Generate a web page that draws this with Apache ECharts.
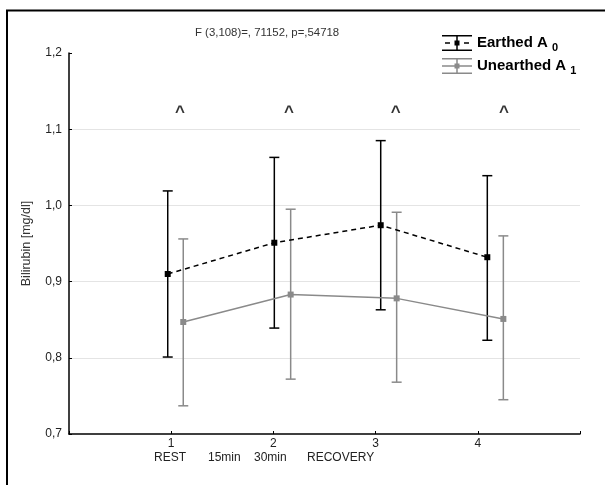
<!DOCTYPE html>
<html>
<head>
<meta charset="utf-8">
<script src="https://cdn.jsdelivr.net/npm/echarts@6/dist/echarts.min.js"></script>
<style>html,body{margin:0;padding:0;background:#fff;}#c{width:605px;height:485px;}</style>
</head>
<body>
<div id="c"></div>
<script>
// ---- data ----
const xTickLabels = ['1', '2', '3', '4'];
const phaseLabels = ['REST', '15min', '30min', 'RECOVERY'];
const seriesNames = ['Earthed A 0', 'Unearthed A 1'];
const earthedX = [0.966, 2.009, 3.050, 4.093];
const earthedMean = [0.910, 0.951, 0.974, 0.932];
const earthedLow = [0.801, 0.839, 0.863, 0.823];
const earthedHigh = [1.019, 1.063, 1.085, 1.039];
const unearthedX = [1.118, 2.169, 3.206, 4.250];
const unearthedMean = [0.847, 0.883, 0.878, 0.851];
const unearthedLow = [0.737, 0.772, 0.768, 0.745];
const unearthedHigh = [0.956, 0.995, 0.991, 0.960];
const caretX = [1.086, 2.152, 3.196, 4.256];
const caretY = [1.122, 1.122, 1.122, 1.122];
const titleText = 'F (3,108)=, 71152, p=,54718';
const yAxisName = 'Bilirubin [mg/dl]';

const FONT = '"Liberation Sans", Arial, sans-serif';
const BLACK = '#000000';
const GRAY = '#8a8a8a';

function errorSeries(name, xs, lows, highs, color) {
  return {
    type: 'custom',
    name: name,
    z: 2,
    silent: true,
    data: xs.map((x, i) => [x, lows[i], highs[i]]),
    renderItem: function (params, api) {
      const x = api.value(0);
      const lo = api.coord([x, api.value(1)]);
      const hi = api.coord([x, api.value(2)]);
      const hw = 5;
      const style = { stroke: color, lineWidth: 1.5 };
      return {
        type: 'group',
        children: [
          { type: 'line', shape: { x1: hi[0], y1: hi[1], x2: lo[0], y2: lo[1] }, style: style },
          { type: 'line', shape: { x1: hi[0] - hw, y1: hi[1], x2: hi[0] + hw, y2: hi[1] }, style: style },
          { type: 'line', shape: { x1: lo[0] - hw, y1: lo[1], x2: lo[0] + hw, y2: lo[1] }, style: style }
        ]
      };
    }
  };
}

const iconEarthed = 'path://M0 0H30V1.5H0Z M0 14.5H30V16H0Z M14.25 0H15.75V16H14.25Z M12.5 5.5H17.5V10.5H12.5Z M3 7.25H8V8.75H3Z M22 7.25H27V8.75H22Z';
const iconUnearthed = 'path://M0 0H30V1.5H0Z M0 14.5H30V16H0Z M14.25 0H15.75V16H14.25Z M12.5 5.5H17.5V10.5H12.5Z M0 7.25H30V8.75H0Z';

const chart = echarts.init(document.getElementById('c'), null, { renderer: 'canvas' });
chart.setOption({
  animation: false,
  backgroundColor: '#ffffff',
  textStyle: { fontFamily: FONT },
  title: {
    text: titleText,
    left: 190,
    top: 22,
    textStyle: { fontSize: 11.4, fontWeight: 'normal', color: '#333', fontFamily: FONT }
  },
  legend: {
    orient: 'vertical',
    left: 437,
    top: 30,
    itemWidth: 30,
    itemHeight: 16,
    itemGap: 5,
    selectedMode: false,
    data: [
      { name: seriesNames[0], icon: iconEarthed, itemStyle: { color: BLACK } },
      { name: seriesNames[1], icon: iconUnearthed, itemStyle: { color: GRAY } }
    ],
    formatter: function (name) {
      const i = name.lastIndexOf(' ');
      return '{m|' + name.slice(0, i) + ' }{s|' + name.slice(i + 1) + '}';
    },
    textStyle: {
      rich: {
        m: { fontSize: 15, fontWeight: 'bold', color: '#000', fontFamily: FONT },
        s: { fontSize: 11, fontWeight: 'bold', color: '#000', fontFamily: FONT, padding: [9, 0, 0, 0] }
      }
    }
  },
  grid: { left: 69, right: 25, top: 53, bottom: 51, containLabel: false },
  xAxis: {
    type: 'value',
    min: 0,
    max: 5,
    interval: 1,
    axisLine: { lineStyle: { color: '#000', width: 1.5 } },
    axisTick: { inside: true, length: 3, lineStyle: { color: '#000' } },
    splitLine: { show: false },
    axisLabel: {
      color: '#222',
      fontSize: 12,
      margin: 4,
      fontFamily: FONT,
      formatter: function (v) {
        const k = Math.round(v);
        return (k >= 1 && k <= xTickLabels.length) ? xTickLabels[k - 1] : '';
      }
    }
  },
  yAxis: {
    type: 'value',
    min: 0.7,
    max: 1.2,
    interval: 0.1,
    name: yAxisName,
    nameLocation: 'middle',
    nameGap: 36,
    nameTextStyle: { fontSize: 12.5, color: '#333', fontFamily: FONT },
    axisLine: { show: true, lineStyle: { color: '#000', width: 1.5 } },
    axisTick: { show: true, inside: true, length: 3, lineStyle: { color: '#000' } },
    splitLine: { show: true, showMinLine: false, showMaxLine: false, lineStyle: { color: '#e4e4e4', width: 1 } },
    axisLabel: {
      color: '#222',
      fontSize: 12,
      margin: 7,
      fontFamily: FONT,
      formatter: function (v) { return v.toFixed(1).replace('.', ','); }
    }
  },
  series: [
    errorSeries('errE', earthedX, earthedLow, earthedHigh, BLACK),
    errorSeries('errU', unearthedX, unearthedLow, unearthedHigh, GRAY),
    {
      type: 'line',
      name: seriesNames[0],
      z: 4,
      data: earthedX.map((x, i) => [x, earthedMean[i]]),
      symbol: 'rect',
      symbolSize: 6,
      itemStyle: { color: BLACK },
      lineStyle: { color: BLACK, width: 1.5, type: [5, 4] }
    },
    {
      type: 'line',
      name: seriesNames[1],
      z: 3,
      data: unearthedX.map((x, i) => [x, unearthedMean[i]]),
      symbol: 'rect',
      symbolSize: 6,
      itemStyle: { color: GRAY },
      lineStyle: { color: GRAY, width: 1.5 }
    },
    {
      type: 'scatter',
      name: 'marks',
      silent: true,
      symbolSize: 1,
      itemStyle: { color: 'rgba(0,0,0,0)' },
      data: caretX.map((x, i) => [x, caretY[i]]),
      label: {
        show: true,
        position: 'inside',
        formatter: '^',
        fontSize: 17,
        fontWeight: 'bold',
        color: '#000',
        fontFamily: FONT
      }
    }
  ],
  graphic: [
    { type: 'rect', silent: true, shape: { x: 7, y: 10.5, width: 620, height: 500 }, style: { fill: 'none', stroke: '#000', lineWidth: 2 } },
    { type: 'text', silent: true, left: 154, top: 452, style: { text: phaseLabels[0], fontSize: 12, fill: '#222', fontFamily: FONT } },
    { type: 'text', silent: true, left: 208, top: 452, style: { text: phaseLabels[1], fontSize: 12, fill: '#222', fontFamily: FONT } },
    { type: 'text', silent: true, left: 254, top: 452, style: { text: phaseLabels[2], fontSize: 12, fill: '#222', fontFamily: FONT } },
    { type: 'text', silent: true, left: 307, top: 452, style: { text: phaseLabels[3], fontSize: 12, fill: '#222', fontFamily: FONT } }
  ]
});
</script>
</body>
</html>
